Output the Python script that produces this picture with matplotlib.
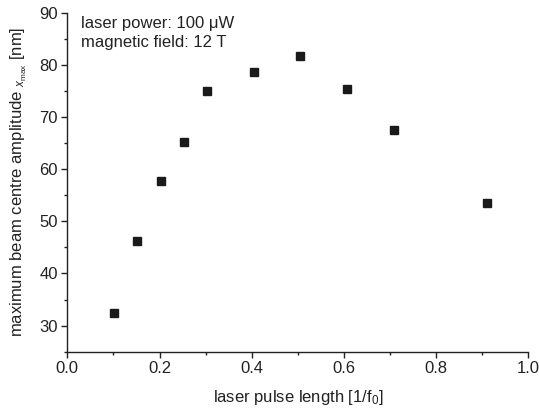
import matplotlib
matplotlib.use("Agg")
import matplotlib.pyplot as plt
from matplotlib.ticker import MultipleLocator

plt.rcParams["font.family"] = "Liberation Sans"
plt.rcParams["mathtext.fontset"] = "custom"
plt.rcParams["mathtext.rm"] = "Liberation Sans"
plt.rcParams["mathtext.it"] = "Liberation Sans:italic"

pulse_length = [0.101, 0.151, 0.203, 0.253, 0.304, 0.405, 0.505, 0.607, 0.708, 0.91]
amplitude = [32.4, 46.3, 57.8, 65.2, 74.9, 78.7, 81.7, 75.3, 67.5, 53.6]

fig = plt.figure(figsize=(5.39, 4.16), dpi=100)
ax = fig.add_axes([0.125, 0.1546, 0.855, 0.8149])

ax.plot(pulse_length, amplitude, linestyle="none", marker="s", markersize=5.8,
        color="#1a1a1a")

ax.set_xlim(0, 1.0)
ax.set_ylim(25, 90)
ax.xaxis.set_major_locator(MultipleLocator(0.2))
ax.xaxis.set_minor_locator(MultipleLocator(0.1))
ax.yaxis.set_major_locator(MultipleLocator(10))
ax.yaxis.set_minor_locator(MultipleLocator(5))
ax.xaxis.set_major_formatter(plt.FormatStrFormatter("%.1f"))

for side in ["top", "right"]:
    ax.spines[side].set_visible(False)
for side in ["left", "bottom"]:
    ax.spines[side].set_linewidth(1.0)
    ax.spines[side].set_color("#222222")

ax.tick_params(which="major", direction="out", length=4, width=1, labelsize=12,
               colors="#222222", pad=3)
ax.tick_params(which="minor", direction="out", length=2.5, width=1, colors="#222222")

ax.set_xlabel("laser pulse length [1/f$_0$]", fontsize=12, color="#222222", labelpad=8)
ax.set_ylabel(r"maximum beam centre amplitude $_{x_{\rm max}}$ [nm]", fontsize=12,
              color="#222222", labelpad=7)

ax.text(0.03, 0.99, "laser power: 100 \u03bcW\nmagnetic field: 12 T",
        transform=ax.transAxes, ha="left", va="top", fontsize=12,
        color="#222222", linespacing=1.3)

fig.savefig("out.png", dpi=100)
